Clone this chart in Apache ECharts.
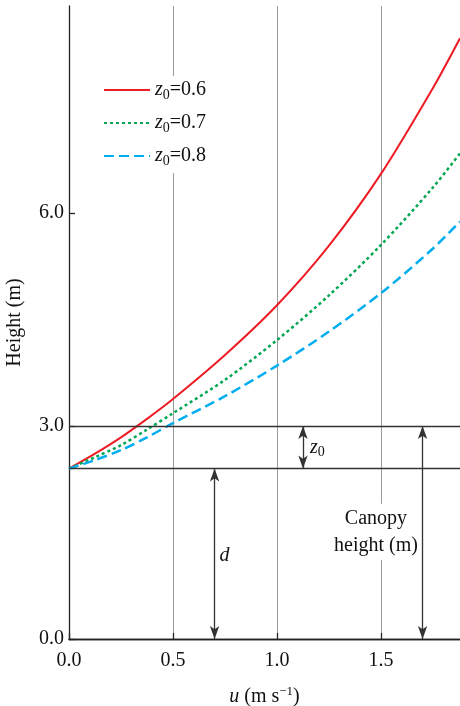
<!DOCTYPE html>
<html><head><meta charset="utf-8">
<script src="https://cdn.jsdelivr.net/npm/echarts@6/dist/echarts.min.js"></script>
<style>html,body{margin:0;padding:0;background:#fff}#c{width:460px;height:706px}</style>
</head><body><div id="c"></div>
<script>
// ---- data ----
const uValues = [0, 0.125, 0.25, 0.375, 0.5, 0.75, 1.0, 1.25, 1.5, 1.75, 1.88];
const heightZ06 = [2.40, 2.61, 2.84, 3.10, 3.38, 4.00, 4.70, 5.54, 6.55, 7.76, 8.46];
const heightZ07 = [2.40, 2.56, 2.73, 2.95, 3.18, 3.65, 4.21, 4.84, 5.55, 6.36, 6.84];
const heightZ08 = [2.40, 2.52, 2.66, 2.84, 3.04, 3.42, 3.85, 4.33, 4.87, 5.50, 5.88];
const z0Values = ['0.6', '0.7', '0.8'];
const displacementD = 2.4;     // d
const z0Level = 3.0;           // d + z0
const refLines = [displacementD, z0Level];
// arrows: [u, from, to]
const arrowU = [0.70, 1.125, 1.70];
const arrowFrom = [0, displacementD, 0];
const arrowTo = [displacementD, z0Level, z0Level];
// annotation texts
const annoU = [0.70, 1.125, 1.476];
const annoH = [1.17, 2.70, 1.51];
const annoKind = ['d', 'z0', 'canopy'];

const FONT = "'Liberation Serif', 'DejaVu Serif', serif";
const INK = '#111';
const colors = ['#ed1c24', '#00a651', '#00aeef'];
const lineTypes = ['solid', [3, 3], [10, 5]];
const widths = [2, 2.5, 2.5];
const heightsAll = [heightZ06, heightZ07, heightZ08];

const richText = {
  i: { fontFamily: FONT, fontSize: 20, fontStyle: 'italic', color: INK },
  n: { fontFamily: FONT, fontSize: 20, color: INK },
  sub: { fontFamily: FONT, fontSize: 14, color: INK, padding: [10, 0, 0, 0] },
  sup: { fontFamily: FONT, fontSize: 13, color: INK, padding: [0, 0, 10, 0] }
};

const lineSeries = z0Values.map((z, k) => ({
  name: 'z0=' + z,
  type: 'line',
  smooth: 0.3,
  symbol: 'none',
  data: uValues.map((u, j) => [u, heightsAll[k][j]]),
  lineStyle: { color: colors[k], width: widths[k], type: lineTypes[k] },
  itemStyle: { color: colors[k] },
  z: 3
}));

const annoSeries = {
  type: 'scatter',
  symbolSize: 0,
  silent: true,
  itemStyle: { opacity: 1 },
  data: annoU.map((u, j) => ({
    value: [u, annoH[j]],
    label: annoKind[j] === 'canopy' ? {
      show: true, position: 'inside', opacity: 1,
      formatter: 'Canopy\nheight (m)',
      fontFamily: FONT, fontSize: 20, lineHeight: 27, color: INK,
      backgroundColor: '#fff', padding: [1, 2]
    } : {
      show: true, position: 'right', opacity: 1, distance: annoKind[j] === 'd' ? 5 : 7,
      formatter: annoKind[j] === 'd' ? '{i|d}' : '{i|z}{sub|0}',
      rich: richText
    }
  })),
  markLine: {
    silent: true,
    symbol: ['none', 'none'],
    label: { show: false },
    lineStyle: { color: '#333', width: 1.3, type: 'solid', opacity: 1 },
    data: refLines.map(v => ({ yAxis: v })).concat(
      arrowU.map((u, j) => [
        { coord: [u, arrowFrom[j]], symbol: 'arrow', symbolSize: [7, 13] },
        { coord: [u, arrowTo[j]], symbol: 'arrow', symbolSize: [7, 13] }
      ])
    ),
    z: 4
  },
  z: 5
};

const chart = echarts.init(document.getElementById('c'));
chart.setOption({
  backgroundColor: '#fff',
  animation: false,
  grid: { left: 69, right: 0, top: 6, bottom: 67, containLabel: false, outerBoundsMode: 'none' },
  legend: {
    show: true,
    orient: 'vertical',
    left: 95,
    top: 76,
    backgroundColor: '#fff',
    padding: [4, 8, 5, 8],
    itemWidth: 46,
    itemHeight: 14,
    itemGap: 11,
    itemStyle: { opacity: 0 },
    data: lineSeries.map(s => s.name),
    formatter: name => '{i|z}{sub|0}{n|=' + name.split('=')[1] + '}',
    textStyle: { rich: richText }
  },
  xAxis: [{
    type: 'value', min: 0, max: 1.88, interval: 0.5,
    name: '{i|u}{n| (m s}{sup|−1}{n|)}',
    nameLocation: 'middle', nameGap: 46,
    nameTextStyle: { rich: richText },
    axisLine: { show: true, onZero: false, lineStyle: { color: '#222', width: 1.3 } },
    axisTick: { show: true, inside: true, length: 6, lineStyle: { color: '#222', width: 1.3 } },
    axisLabel: { margin: 12, showMaxLabel: false, fontFamily: FONT, fontSize: 20, color: INK, formatter: v => v.toFixed(1) },
    splitLine: { show: true, lineStyle: { color: '#999', width: 1 } }
  }, {
    type: 'value', position: 'top', min: 0, max: 1.88,
    axisLine: { show: true, lineStyle: { color: '#222', width: 1.3 } },
    axisTick: { show: false }, axisLabel: { show: false }, splitLine: { show: false }
  }],
  yAxis: {
    type: 'value', min: 0, max: 8.915, interval: 3,
    name: 'Height (m)', nameLocation: 'middle', nameGap: 44,
    nameTextStyle: { fontFamily: FONT, fontSize: 20, color: INK },
    axisLine: { show: true, onZero: false, lineStyle: { color: '#222', width: 1.3 } },
    axisTick: { show: true, inside: true, length: 6, lineStyle: { color: '#222', width: 1.3 } },
    axisLabel: { margin: 5, showMaxLabel: false, fontFamily: FONT, fontSize: 20, color: INK, formatter: v => v.toFixed(1) },
    splitLine: { show: false }
  },
  series: lineSeries.concat([annoSeries])
});
</script></body></html>
